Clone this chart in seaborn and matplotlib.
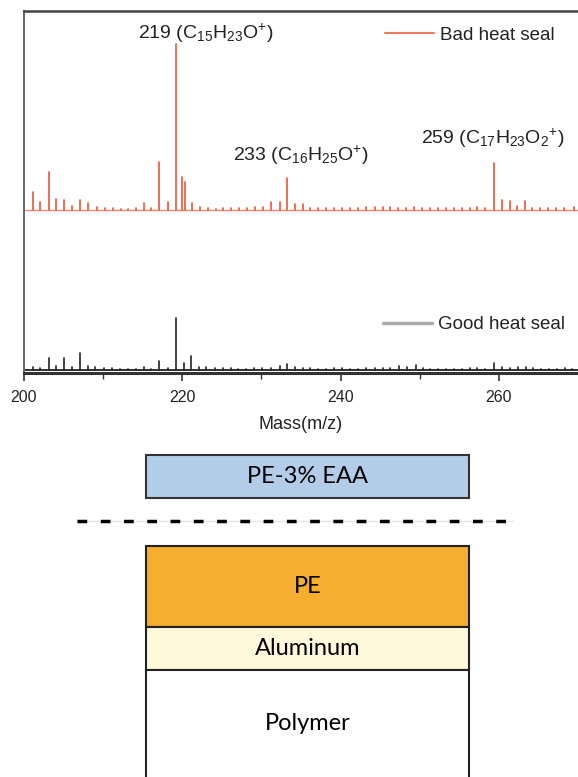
import numpy as np
import pandas as pd
import seaborn as sns
import matplotlib.pyplot as plt
from matplotlib.lines import Line2D

# Datos del espectro (intensidad relativa, 219 rojo = 100) ---------------------
masa_mala = [201.1, 202.0, 203.1, 204.1, 205.1, 206.1, 207.1, 208.1, 209.2, 210.2,
             211.2, 212.2, 213.2, 214.1, 215.1, 216.1, 217.1, 218.2, 219.2, 220.0,
             220.3, 221.2, 222.2, 223.2, 224.2, 225.2, 226.2, 227.2, 228.2, 229.2,
             230.2, 231.2, 232.3, 233.2, 234.2, 235.2, 236.2, 237.2, 238.2, 239.2,
             240.2, 241.2, 242.2, 243.2, 244.3, 245.3, 246.3, 247.3, 248.3, 249.3,
             250.3, 251.3, 252.3, 253.3, 254.3, 255.3, 256.3, 257.3, 258.3, 259.4,
             260.4, 261.4, 262.3, 263.3, 264.2, 265.2, 266.2, 267.2, 268.2, 269.5]
int_mala = [10.8, 4.8, 22.9, 6.6, 6.0, 2.4, 6.0, 4.2, 1.8, 1.2,
            1.2, 0.9, 0.9, 1.2, 4.2, 1.2, 28.9, 4.8, 100.0, 19.9,
            16.9, 4.2, 1.8, 1.2, 0.9, 1.2, 1.2, 1.2, 1.2, 1.8,
            1.8, 4.8, 4.8, 19.3, 3.6, 3.6, 1.2, 1.2, 1.2, 1.2,
            1.2, 1.2, 1.2, 1.8, 1.8, 1.8, 1.8, 1.2, 1.2, 1.8,
            1.2, 1.2, 1.2, 1.2, 1.2, 1.2, 1.2, 1.8, 1.2, 28.3,
            6.0, 5.4, 2.4, 5.4, 1.2, 1.2, 1.2, 1.2, 1.2, 1.8]

masa_buena = [201.1, 202.0, 203.1, 204.1, 205.1, 206.1, 207.1, 208.1, 209.0, 210.1,
              211.1, 212.1, 213.1, 214.1, 215.1, 216.1, 217.1, 218.2, 219.2, 220.2,
              221.1, 222.1, 223.0, 224.1, 225.1, 226.1, 227.1, 228.1, 229.1, 230.1,
              231.2, 232.3, 233.2, 234.2, 235.2, 236.2, 237.2, 238.2, 239.2, 240.2,
              241.2, 242.2, 243.2, 244.3, 245.3, 246.3, 247.4, 248.4, 249.5, 250.4,
              251.3, 252.3, 253.3, 254.3, 255.3, 256.3, 257.3, 258.3, 259.4, 260.4,
              261.4, 262.4, 263.4, 264.3, 265.3, 266.3, 267.3, 268.3, 269.3]
int_buena = [1.8, 1.2, 7.2, 2.4, 7.2, 1.8, 10.2, 2.4, 1.8, 1.2,
             1.2, 0.8, 0.8, 0.8, 1.8, 0.8, 5.4, 1.2, 31.3, 4.2,
             8.4, 1.8, 1.8, 1.2, 1.2, 1.2, 0.8, 0.8, 1.2, 1.2,
             1.2, 2.4, 3.6, 1.8, 1.2, 1.2, 0.8, 0.8, 1.2, 1.2,
             0.8, 0.8, 1.2, 1.2, 1.2, 1.2, 2.4, 1.8, 3.0, 1.2,
             0.8, 0.8, 0.8, 0.8, 0.8, 1.2, 1.2, 0.8, 4.2, 1.8,
             1.2, 1.8, 1.8, 1.2, 0.8, 0.8, 0.8, 1.2, 0.8]

etiquetas_picos = [r"219 (C$_{15}$H$_{23}$O$^{+}$)",
                   r"233 (C$_{16}$H$_{25}$O$^{+}$)",
                   r"259 (C$_{17}$H$_{23}$O$_{2}$$^{+}$)"]

# Capas del diagrama ----------------------------------------------------------
capas = ["PE", "Aluminum", "Polymer"]
grosor_capas = [81, 43, 110]
color_capas = ["#F5AE2E", "#FFF8DA", "#FFFFFF"]
capa_sup = "PE-3% EAA"
color_sup = "#B3CDE9"

# Estilo ----------------------------------------------------------------------
sns.set_style("ticks")
plt.rcParams["font.family"] = ["Liberation Sans", "DejaVu Sans"]
plt.rcParams["mathtext.fontset"] = "custom"
plt.rcParams["mathtext.rm"] = "Liberation Sans"
plt.rcParams["mathtext.default"] = "regular"

ESCALA = 1.66          # px por unidad de intensidad
DESPL_ROJO = 160 / ESCALA
ROJO = "#EC5536"
NEGRO = "#222222"

fig = plt.figure(figsize=(5.78, 7.77), dpi=100)
ax = fig.add_axes([24 / 578, 1 - 373 / 777, 554 / 578, 362 / 777])

# Formato largo para seaborn: cada pico es una unidad con dos puntos
filas = []
for nombre, masas, ints, base in [("Bad heat seal", masa_mala, int_mala, DESPL_ROJO),
                                  ("Good heat seal", masa_buena, int_buena, 0.0)]:
    for i, (m, h) in enumerate(zip(masas, ints)):
        filas.append((nombre, f"{nombre}-{i}", m, base))
        filas.append((nombre, f"{nombre}-{i}", m, base + h))
df = pd.DataFrame(filas, columns=["muestra", "pico", "masa", "y"])

sns.lineplot(data=df, x="masa", y="y", hue="muestra", units="pico", estimator=None,
             palette={"Bad heat seal": ROJO, "Good heat seal": NEGRO},
             linewidth=1.2, legend=False, sort=False, ax=ax)
ax.axhline(DESPL_ROJO, color="#F08A70", lw=1.0, zorder=1)
ax.axhline(0, color=NEGRO, lw=1.3, zorder=1)

ax.set_xlim(200, 270)
ax.set_ylim(-3 / ESCALA, 359 / ESCALA)
ax.set_xticks([200, 220, 240, 260])
ax.set_xticks([210, 230, 250], minor=True)
ax.tick_params(axis="x", which="major", length=6, width=1.2, labelsize=11.5, pad=6,
               color="#333333", labelcolor="#222222")
ax.tick_params(axis="x", which="minor", length=4, width=1.0, color="#333333")
ax.set_yticks([])
ax.set_xlabel("Mass(m/z)", fontsize=13, labelpad=8, color="#222222")
ax.set_ylabel("")
ax.spines["top"].set_color("#444444")
ax.spines["top"].set_linewidth(1.8)
ax.spines["left"].set_color("#666666")
ax.spines["left"].set_linewidth(1.4)
ax.spines["bottom"].set_color("#333333")
ax.spines["bottom"].set_linewidth(2.2)
ax.spines["right"].set_visible(False)

# Etiquetas de picos
ax.text(222.9, 203, etiquetas_picos[0], ha="center", va="center", fontsize=14, color="#222222")
ax.text(235.0, 129.5, etiquetas_picos[1], ha="center", va="center", fontsize=14, color="#222222")
ax.text(259.2, 139.8, etiquetas_picos[2], ha="center", va="center", fontsize=14, color="#222222")

# Leyendas
ley1 = ax.legend([Line2D([], [], color="#F07A60", lw=1.5)], ["Bad heat seal"],
                 loc="upper left", bbox_to_anchor=(0.6516, 0.956), frameon=False,
                 fontsize=13.5, handlelength=2.6, handletextpad=0.35,
                 borderpad=0, borderaxespad=0, labelcolor="#222222")
ax.add_artist(ley1)
ax.legend([Line2D([], [], color="#AAAAAA", lw=2.5)], ["Good heat seal"],
          loc="upper left", bbox_to_anchor=(0.648, 0.157), frameon=False,
          fontsize=13.5, handlelength=2.6, handletextpad=0.35,
          borderpad=0, borderaxespad=0, labelcolor="#222222")

# Diagrama de capas -----------------------------------------------------------
ax2 = fig.add_axes([0, 0, 1, 1 - 440 / 777])
ax2.set_xlim(0, 578)
ax2.set_ylim(777, 440)
ax2.axis("off")

x_centro, ancho = 307.5, 323
fuente_caja = ["Lato", "DejaVu Sans"]
ax2.bar(x_centro, 43, bottom=455, width=ancho, color=color_sup,
        edgecolor="#333333", linewidth=1.5)
ax2.text(x_centro, 477, capa_sup, ha="center", va="center", fontsize=17,
         family=fuente_caja, color="black")

ax2.plot([77, 513], [521, 521], color="#E4E4E4", lw=1.0)
ax2.plot([77, 513], [521, 521], ls=(0, (2.8, 3.9)), color="black", lw=2.5)

tope = 546
for nombre, grosor, color in zip(capas, grosor_capas, color_capas):
    ax2.bar(x_centro, grosor, bottom=tope, width=ancho, color=color,
            edgecolor="#222222", linewidth=1.5)
    centro = tope + min(grosor, 107) / 2
    ax2.text(x_centro, centro, nombre, ha="center", va="center", fontsize=17,
             family=fuente_caja, color="black")
    tope += grosor

fig.savefig("out.png", dpi=100)
